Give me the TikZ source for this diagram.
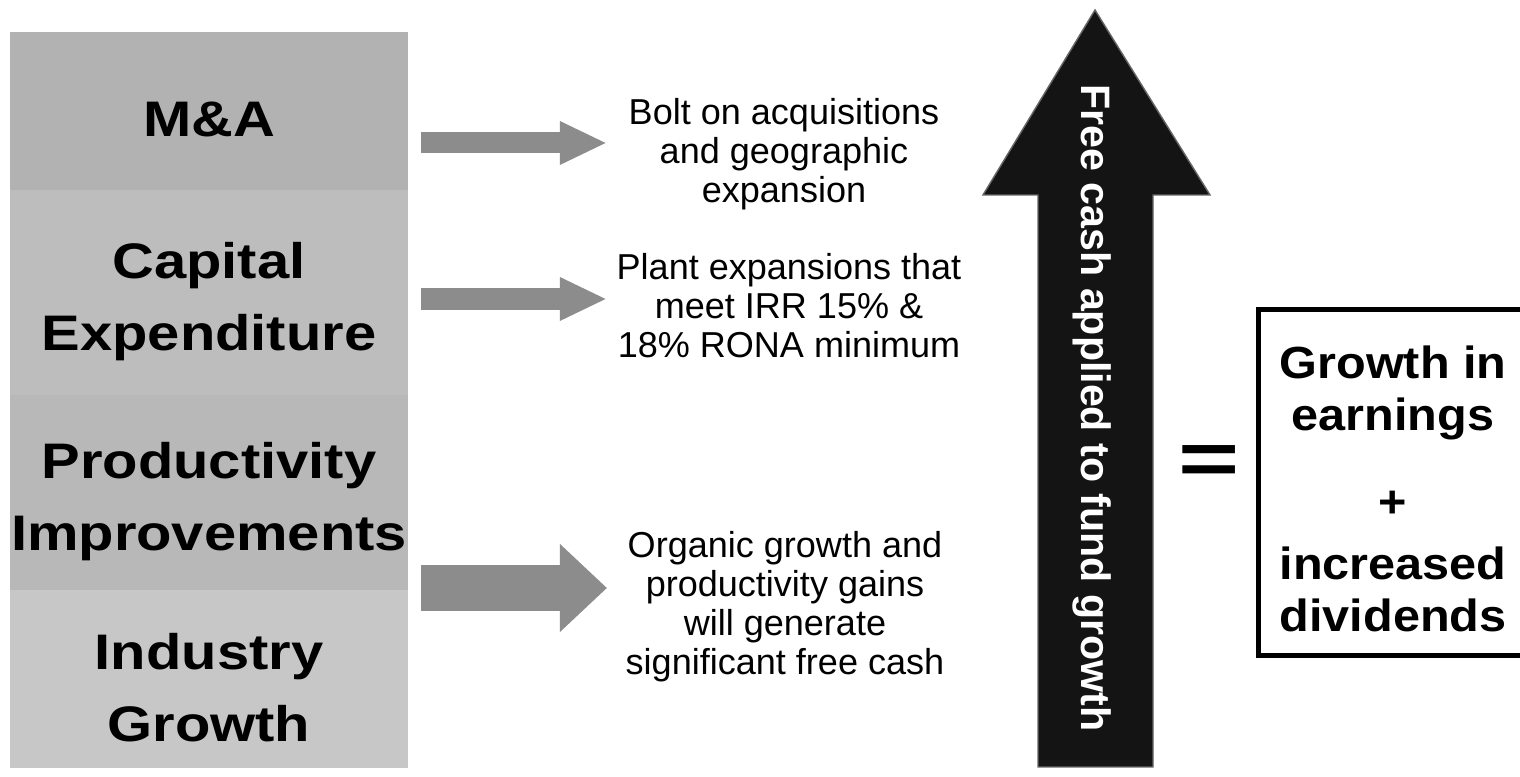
\documentclass[tikz,border=0pt]{standalone}
\usepackage{fontspec}
\setmainfont{Liberation Sans}
\newfontfamily\widefont[FakeStretch=1.16]{Liberation Sans}
\newfontfamily\boxfont[FakeStretch=1.08]{Liberation Sans}
\usetikzlibrary{arrows.meta}

\begin{document}
\begin{tikzpicture}[
		x=0.01cm, y=-0.01cm,
		every node/.style={inner sep=0pt, align=center},
		band/.style={rectangle, minimum width=3.98cm, font=\widefont\bfseries\fontsize{14.2pt}{20.6pt}\selectfont},
		note/.style={font=\fontsize{10.25pt}{11.1pt}\selectfont},
		fat/.style={draw=black!45, -{Triangle[length=0.47cm, width=#1]}}
	]
  \clip (0,0) rectangle (1520,777);
  \fill[white] (0,0) rectangle (1520,777);
  \node (mna) [band, fill=black!30, minimum height=1.58cm] at (209,111) {\rule{0pt}{0.52cm}M\&A};
  \node (capex) [band, fill=black!26, minimum height=2.05cm] at (209,292.5) {\rule{0pt}{0.54cm}Capital\\Expenditure};
  \node (prod) [band, fill=black!28, minimum height=1.95cm] at (209,492.5) {\rule{0pt}{0.54cm}Productivity\\Improvements};
  \node (indus) [band, fill=black!22, minimum height=1.78cm] at (209,679) {\rule{0pt}{0.54cm}Industry\\Growth};
  \node (bolt) [note] at (784,154) {Bolt on acquisitions\\and geographic\\expansion};
  \node (plant) [note] at (789,306) {Plant expansions that\\meet IRR 15\% \&\\18\% RONA minimum};
  \node (organic) [note] at (785,607) {Organic growth and\\productivity gains\\will generate\\significant free cash};
  \coordinate (a1) at (421,143); \coordinate (b1) at (607,143);
  \coordinate (a2) at (421,299); \coordinate (b2) at (607,299);
  \coordinate (a3) at (421,588); \coordinate (b3) at (607,588);
  \draw[fat=0.40cm, line width=0.21cm] (a1) -- (b1);
  \draw[fat=0.40cm, line width=0.22cm] (a2) -- (b2);
  \draw[fat=0.85cm, line width=0.45cm] (a3) -- (b3);
  \draw[draw=black!60, fill=black!92] (1038,767) -- (1038,195) -- (983,195) -- (1095,10)
    -- (1210,195) -- (1153,195) -- (1153,767) -- cycle;
  \node (fund) [rotate=-90, text=white, font=\bfseries\fontsize{11.7pt}{14pt}\selectfont] at (1092,408) {Free cash applied to fund growth};
  \node (eq) [font=\bfseries\fontsize{21.3pt}{24pt}\selectfont] at (1209,465) {\scalebox{1.4}[1]{=}};
  \node (result) [draw, line width=0.05cm, minimum width=2.68cm, minimum height=3.45cm,
    font=\boxfont\bfseries\fontsize{12.8pt}{14.8pt}\selectfont] at (1393,482.5)
    {\rule{0pt}{0.46cm}Growth in\\earnings\\[0.35cm]+\\[0.1cm]increased\\dividends};
\end{tikzpicture}
\end{document}
